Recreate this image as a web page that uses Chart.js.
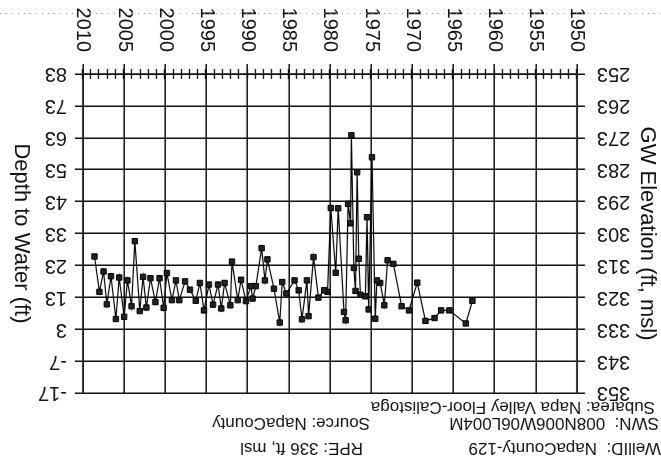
<!DOCTYPE html>
<html>
<head>
<meta charset="utf-8">
<script src="https://cdn.jsdelivr.net/npm/chart.js@4.4.1/dist/chart.umd.min.js"></script>
<style>
  html, body { margin: 0; padding: 0; background: #fff; }
  /* the scanned hydrograph is upside down, so the whole chart is turned */
  #wrap { width: 661px; height: 471px; transform: rotate(180deg); }
</style>
</head>
<body>
<div id="wrap"><canvas id="chart" width="661" height="471"></canvas></div>
<script>
let years = [1962.7, 1963.5, 1965.5, 1966.5, 1967.3, 1968.4, 1969.4, 1970.4, 1971.3, 1972.3,
  1973.0, 1973.4, 1973.9, 1974.3, 1974.5, 1974.9, 1975.3, 1975.5, 1975.7, 1976.3,
  1976.5, 1976.7, 1976.9, 1977.1, 1977.4, 1977.5, 1977.8, 1978.1, 1978.3, 1979.0,
  1979.3, 1979.9, 1980.3, 1980.7, 1981.4, 1982.0, 1982.6, 1982.8, 1983.4, 1983.8,
  1984.3, 1985.3, 1985.8, 1986.1, 1986.8, 1987.6, 1987.9, 1988.3, 1989.0, 1989.4,
  1989.6, 1990.2, 1990.8, 1991.2, 1991.9, 1992.1, 1992.8, 1993.2, 1993.6, 1994.2,
  1994.7, 1995.3, 1995.8, 1996.3, 1997.0, 1997.6, 1998.3, 1998.7, 1999.2, 1999.8,
  2000.2, 2000.7, 2001.2, 2001.8, 2002.3, 2002.7, 2003.1, 2003.7, 2004.1, 2004.6,
  2005.0, 2005.6, 2006.0, 2006.6, 2007.1, 2007.5, 2008.0, 2008.6];
let depths = [11.9, 4.8, 8.9, 8.9, 6.5, 5.6, 17.6, 8.9, 10.2, 23.5,
  24.6, 10.5, 17.5, 18.3, 6.3, 56.9, 9.2, 38.1, 13.3, 13.8,
  25.1, 52.2, 15.0, 22.2, 63.8, 36.2, 42.3, 5.8, 8.4, 40.9,
  20.7, 41.0, 14.7, 15.2, 12.9, 25.6, 7.1, 18.3, 6.1, 15.2,
  18.3, 14.2, 17.8, 5.1, 15.7, 24.9, 18.3, 28.4, 16.5, 12.6,
  16.5, 11.8, 18.5, 12.1, 24.2, 10.5, 17.5, 9.5, 17.0, 10.7,
  17.0, 8.9, 17.5, 11.9, 15.4, 18.0, 12.1, 18.3, 12.1, 20.6,
  9.7, 19.0, 11.5, 19.0, 9.8, 19.4, 8.7, 30.6, 10.2, 18.3,
  6.9, 19.2, 6.2, 19.6, 10.8, 21.1, 14.7, 25.8];

let yearLabels = [1950, 1955, 1960, 1965, 1970, 1975, 1980, 1985, 1990, 1995, 2000, 2005, 2010];
let elevTicks = [253, 263, 273, 283, 293, 303, 313, 323, 333, 343, 353];
let depthTicks = [-17, -7, 3, 13, 23, 33, 43, 53, 63, 73, 83];

let headerLeft = ['WellID:  NapaCounty-129', 'SWN:  008N006W06L004M', 'Subarea: Napa Valley Floor-Calistoga'];
let headerRight = ['RPE: 336 ft, msl', 'Source: NapaCounty'];
let elevTitle = 'GW Elevation (ft, msl)';
let depthTitle = 'Depth to Water (ft)';

const ink = '#111';
const family = '"Liberation Sans", Arial, sans-serif';

const decor = {
  id: 'decor',
  afterDraw(chart) {
    const ctx = chart.ctx;
    const a = chart.chartArea;
    const xs = chart.scales.x;
    ctx.save();
    // yearly minor ticks crossing the time axis
    ctx.strokeStyle = ink;
    ctx.lineWidth = 1.3;
    for (let yr = yearLabels[0]; yr <= yearLabels[yearLabels.length - 1]; yr++) {
      const px = Math.round(xs.getPixelForValue(yr)) + 0.5;
      ctx.beginPath();
      ctx.moveTo(px, a.bottom - 5);
      ctx.lineTo(px, a.bottom + 5);
      ctx.stroke();
    }
    // faint dotted frame line under the year labels
    ctx.strokeStyle = '#999';
    ctx.lineWidth = 1;
    ctx.setLineDash([1, 5]);
    ctx.beginPath();
    ctx.moveTo(0, 457.5);
    ctx.lineTo(661, 457.5);
    ctx.stroke();
    ctx.setLineDash([]);

    // header text
    ctx.fillStyle = ink;
    ctx.textBaseline = 'middle';
    ctx.textAlign = 'left';
    ctx.font = '17px ' + family;
    ctx.fillText(headerLeft[0], 0, 23);
    ctx.fillText(headerLeft[1], 2, 48);
    ctx.fillText(headerLeft[2], 6, 64);
    ctx.fillText(headerRight[0], 298, 23);
    ctx.fillText(headerRight[1], 291, 48);

    // axis titles, both reading bottom to top
    ctx.font = '22px ' + family;
    ctx.textAlign = 'center';
    const midY = (a.top + a.bottom) / 2;
    [[elevTitle, 14], [depthTitle, 640]].forEach(([t, x]) => {
      ctx.save();
      ctx.translate(x, midY);
      ctx.rotate(-Math.PI / 2);
      ctx.fillText(t, 0, 0);
      ctx.restore();
    });
    ctx.restore();
  }
};

Chart.defaults.font.family = family;
Chart.defaults.color = ink;

new Chart(document.getElementById('chart'), {
  type: 'line',
  data: {
    datasets: [{
      data: years.map((x, i) => ({ x: x, y: depths[i] })),
      yAxisID: 'y2',
      borderColor: '#000',
      borderWidth: 1.2,
      pointStyle: 'rect',
      pointRadius: 3.8,
      pointBackgroundColor: '#222',
      pointBorderColor: '#000',
      pointBorderWidth: 1,
      tension: 0
    }]
  },
  options: {
    responsive: false,
    animation: false,
    devicePixelRatio: 1,
    layout: { padding: { top: 78, left: 0, right: 0, bottom: 0 } },
    plugins: { legend: { display: false }, tooltip: { enabled: false } },
    scales: {
      x: {
        type: 'linear',
        min: 1950,
        max: 2010,
        afterBuildTicks: s => { s.ticks = yearLabels.map(v => ({ value: v })); },
        afterFit: s => { s.height = 74; },
        grid: { color: ink, lineWidth: 1.5, tickLength: 10, tickColor: ink },
        border: { color: ink, width: 1.5 },
        ticks: { minRotation: 90, maxRotation: 90, padding: 12, autoSkip: false,
                 font: { size: 20 }, callback: v => String(v) }
      },
      y: {
        type: 'linear',
        position: 'left',
        min: 253,
        max: 353,
        afterBuildTicks: s => { s.ticks = elevTicks.map(v => ({ value: v })); },
        afterFit: s => { s.width = 84; },
        grid: { color: ink, lineWidth: 1.5, tickLength: 8, tickColor: ink },
        border: { color: ink, width: 1.5 },
        ticks: { padding: 12, font: { size: 20 }, callback: v => String(v) }
      },
      y2: {
        type: 'linear',
        position: 'right',
        reverse: true,
        min: -17,
        max: 83,
        afterBuildTicks: s => { s.ticks = depthTicks.map(v => ({ value: v })); },
        afterFit: s => { s.width = 83; },
        grid: { drawOnChartArea: false, color: ink, lineWidth: 1.5, tickLength: 8, tickColor: ink },
        border: { color: ink, width: 1.5 },
        ticks: { padding: 8, font: { size: 20 }, callback: v => String(v) }
      }
    }
  },
  plugins: [decor]
});
</script>
</body>
</html>
